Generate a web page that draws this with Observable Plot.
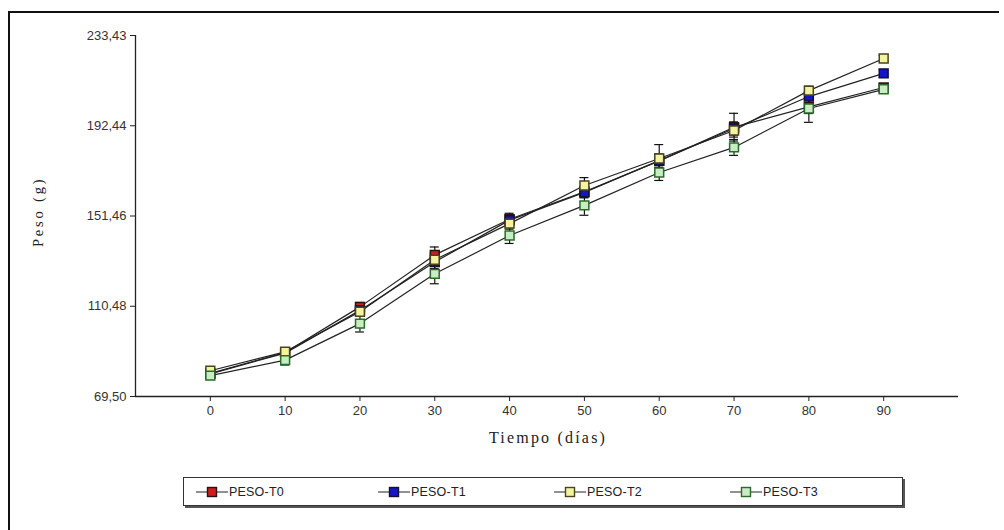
<!DOCTYPE html>
<html>
<head>
<meta charset="utf-8">
<script src="https://cdn.jsdelivr.net/npm/d3@7"></script>
<script src="https://cdn.jsdelivr.net/npm/@observablehq/plot@0.6"></script>
<style>
  html, body { margin: 0; padding: 0; background: #fff; }
  #wrap { position: relative; width: 1004px; height: 530px; overflow: hidden; background: #fff; }
  #frame { position: absolute; left: 8px; top: 11px; width: 991px; height: 540px;
           border-top: 2px solid #111; border-left: 2px solid #111; box-sizing: border-box; }
  #chart { position: absolute; left: 0; top: 0; }
  #legend { position: absolute; left: 183px; top: 477px; width: 720px; height: 29px;
            border: 1px solid #333; box-shadow: 2px 2px 0 #555; background: #fff; box-sizing: border-box;
            font-family: "Liberation Sans", Arial, sans-serif; font-size: 12.5px; color: #222; }
  .item { position: absolute; top: 0; height: 27px; display: flex; align-items: center; }
  .item svg { display: block; }
  .item span { margin-left: 1px; letter-spacing: 0.2px; }
</style>
</head>
<body>
<div id="wrap">
  <div id="frame"></div>
  <div id="chart"></div>
  <div id="legend"></div>
</div>
<script>
// ---- data ----
const days   = [0, 10, 20, 30, 40, 50, 60, 70, 80, 90];
const pesoT0 = [80.0, 89.5, 110.2, 133.8, 150.0, 162.5, 176.5, 191.8, 201.0, 209.8];
const pesoT1 = [79.8, 89.2, 108.6, 130.6, 149.6, 162.2, 176.6, 191.2, 205.7, 216.2];
const pesoT2 = [81.2, 89.8, 108.0, 131.6, 148.0, 165.3, 177.6, 190.3, 208.4, 223.0];
const pesoT3 = [79.0, 86.0, 102.6, 125.2, 142.6, 156.3, 171.2, 182.6, 200.3, 209.0];
const errT0  = [1.0, 1.2, 2.0, 3.6, 2.7, 2.5, 3.0, 6.3, 3.0, 1.8];
const errT1  = [1.0, 1.2, 2.0, 3.0, 2.5, 2.5, 3.0, 3.0, 3.0, 1.8];
const errT2  = [1.0, 1.0, 2.0, 3.0, 2.5, 3.6, 6.3, 3.0, 2.0, 1.5];
const errT3  = [1.0, 2.2, 3.8, 4.5, 3.6, 4.5, 3.6, 3.6, 6.3, 1.8];
const seriesNames = ["PESO-T0", "PESO-T1", "PESO-T2", "PESO-T3"];
const yTicks = [69.50, 110.48, 151.46, 192.44, 233.43];
const xTicks = [0, 10, 20, 30, 40, 50, 60, 70, 80, 90];
const yLabel = "Peso (g)";
const xLabel = "Tiempo (días)";

const fills   = ["#d01c1c", "#1414c8", "#f4f4a0", "#c8ecc4"];
const strokes = ["#2a1010", "#101030", "#4a4420", "#2a6a2a"];

const values = [pesoT0, pesoT1, pesoT2, pesoT3];
const errs   = [errT0, errT1, errT2, errT3];
const rows = [];
seriesNames.forEach((s, i) => {
  days.forEach((d, j) => rows.push({series: s, idx: i, day: d, v: values[i][j], e: errs[i][j]}));
});

const fmt = d => d.toFixed(2).replace(".", ",");

const marks = [
  Plot.ruleX([-10], {stroke: "#222", strokeWidth: 1.3}),
  Plot.ruleY([69.5], {stroke: "#222", strokeWidth: 1.3}),
  Plot.axisY(yTicks, {anchor: "left", tickSize: 5, tickPadding: 4, tickFormat: fmt, label: null,
                      fontSize: 13, stroke: "#222"}),
  Plot.axisX(xTicks, {anchor: "bottom", tickSize: 5, tickPadding: 4, label: null,
                      fontSize: 13, stroke: "#222"}),
  // error bars
  Plot.ruleX(rows, {x: "day", y1: d => d.v - d.e, y2: d => d.v + d.e, stroke: "#111", strokeWidth: 1.2}),
  Plot.ruleY(rows, {y: d => d.v + d.e, x1: d => d.day - 0.6, x2: d => d.day + 0.6, stroke: "#111", strokeWidth: 1.2}),
  Plot.ruleY(rows, {y: d => d.v - d.e, x1: d => d.day - 0.6, x2: d => d.day + 0.6, stroke: "#111", strokeWidth: 1.2}),
];
seriesNames.forEach((s, i) => {
  const data = rows.filter(r => r.idx === i);
  marks.push(Plot.line(data, {x: "day", y: "v", stroke: "#222", strokeWidth: 1.2}));
});
seriesNames.forEach((s, i) => {
  const data = rows.filter(r => r.idx === i);
  marks.push(Plot.dot(data, {x: "day", y: "v", symbol: "square", r: 5,
                             fill: fills[i], stroke: strokes[i], strokeWidth: 1.5}));
});
marks.push(Plot.text([yLabel], {frameAnchor: "left", dx: -97, dy: 31, rotate: -90,
  fontFamily: "Liberation Serif", fontSize: 14.5, fill: "#222", text: d => d}));
marks.push(Plot.text([xLabel], {frameAnchor: "bottom", dy: 46, dx: 1,
  fontFamily: "Liberation Serif", fontSize: 16, fill: "#222", text: d => d}));

const chart = Plot.plot({
  width: 1004, height: 460,
  marginLeft: 135, marginRight: 46, marginTop: 35, marginBottom: 64,
  x: {domain: [-10, 100], axis: null},
  y: {domain: [69.5, 233.43], axis: null},
  style: {fontFamily: "Liberation Sans, Arial, sans-serif", color: "#333", background: "transparent", overflow: "visible"},
  marks
});
// widen the serif axis titles as in the reference
d3.select(chart).selectAll("text").each(function() {
  if (this.textContent === xLabel) this.style.letterSpacing = "2.2px";
  if (this.textContent === yLabel) this.style.letterSpacing = "2.8px";
});
document.getElementById("chart").appendChild(chart);

// legend
const legend = document.getElementById("legend");
const lefts = [12, 194, 370, 546];
seriesNames.forEach((s, i) => {
  const it = document.createElement("div");
  it.className = "item";
  it.style.left = lefts[i] + "px";
  it.innerHTML = `<svg width="32" height="12"><line x1="0" x2="32" y1="6" y2="6" stroke="#222" stroke-width="1"/>` +
    `<rect x="11.5" y="1.5" width="9" height="9" fill="${fills[i]}" stroke="${strokes[i]}" stroke-width="1.4"/></svg>` +
    `<span>${s}</span>`;
  legend.appendChild(it);
});
</script>
</body>
</html>
